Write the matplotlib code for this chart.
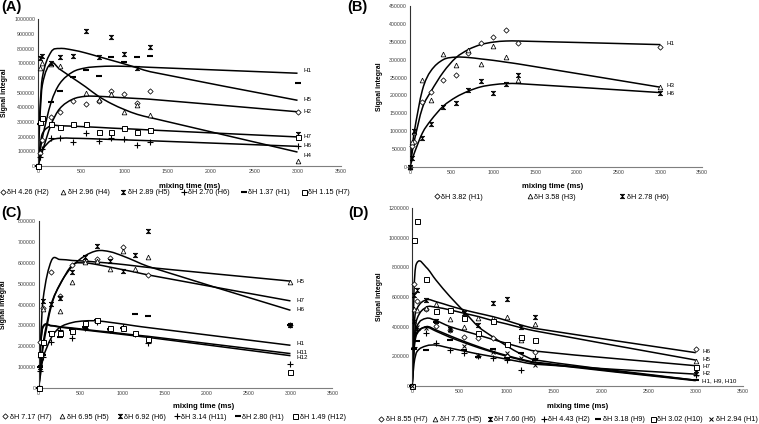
import numpy as np
import matplotlib
matplotlib.use("Agg")
import matplotlib.pyplot as plt
from matplotlib.path import Path
from matplotlib.patches import PathPatch
from matplotlib import ticker

plt.rcParams['font.family'] = ['Liberation Sans Narrow', 'Liberation Sans', 'DejaVu Sans']

nan = np.nan

# mixing times (ms)
times = [0, 20, 50, 150, 250, 400, 550, 700, 850, 1000, 1150, 1300, 3000]

# ---- panel A ----
a_legend = ["δH 4.26 (H2)", "δH 2.96 (H4)", "δH 2.89 (H5)", "δH 2.70 (H6)", "δH 1.37 (H1)", "δH 1.15 (H7)"]
a_h2 = [0, 90e3, 180e3, 332e3, 370e3, 443e3, 425e3, 443e3, 511e3, 493e3, 427e3, 511e3, 370e3]
a_h4 = [0, 670e3, 700e3, 698e3, 682e3, nan, 495e3, 447e3, 489e3, 366e3, 415e3, 348e3, 34e3]
a_h5 = [0, 734e3, 752e3, 700e3, 745e3, 752e3, 916e3, 745e3, 877e3, 766e3, 666e3, 807e3, 221e3]
a_h6 = [0, 60e3, 120e3, 189e3, 189e3, 164e3, 227e3, 173e3, 193e3, 184e3, 143e3, 164e3, 135e3]
a_h1 = [0, 290e3, 330e3, 439e3, 511e3, 609e3, 655e3, 616e3, 741e3, 707e3, 739e3, 750e3, 564e3]
a_h7 = [0, 298e3, 325e3, 284e3, 264e3, 284e3, 284e3, 234e3, 234e3, 261e3, 234e3, 243e3, 199e3]
a_h2_fit = [0, 40e3, 100e3, 280e3, 390e3, 455e3, 475e3, 475e3, 470e3, 465e3, 460e3, 455e3, 370e3]
a_h4_fit = [0, 300e3, 550e3, 700e3, 660e3, 600e3, 540e3, 475e3, 425e3, 385e3, 352e3, 330e3, 96e3]
a_h5_fit = [0, 350e3, 600e3, 775e3, 800e3, 790e3, 770e3, 745e3, 720e3, 695e3, 668e3, 642e3, 448e3]
a_h6_fit = [0, 50e3, 110e3, 175e3, 190e3, 190e3, 188e3, 185e3, 182e3, 179e3, 176e3, 173e3, 135e3]
a_h1_fit = [0, 80e3, 190e3, 430e3, 560e3, 640e3, 668e3, 677e3, 680e3, 679e3, 676e3, 672e3, 632e3]
a_h7_fit = [0, 120e3, 220e3, 275e3, 275e3, 272e3, 268e3, 264e3, 259e3, 255e3, 251e3, 246e3, 199e3]

# ---- panel B ----
b_legend = ["δH 3.82 (H1)", "δH 3.58 (H3)", "δH 2.78 (H6)"]
b_h1 = [0, 58e3, 70e3, 183e3, 211e3, 244e3, 256e3, 318e3, 346e3, 362e3, 382e3, 346e3, 335e3]
b_h3 = [0, 70e3, 98e3, 244e3, 186e3, 317e3, 286e3, 328e3, 289e3, 338e3, 307e3, 244e3, 223e3]
b_h6 = [0, 25e3, 100e3, 81e3, 121e3, 168e3, 180e3, 216e3, 239e3, 208e3, 233e3, 256e3, 207e3]
b_h1_fit = [0, 30e3, 70e3, 165e3, 210e3, 265e3, 305e3, 328e3, 342e3, 349e3, 352e3, 352e3, 342e3]
b_h3_fit = [0, 40e3, 95e3, 215e3, 268e3, 300e3, 307e3, 306e3, 302e3, 298e3, 293e3, 288e3, 223e3]
b_h6_fit = [0, 15e3, 37e3, 95e3, 130e3, 170e3, 195e3, 212e3, 224e3, 230e3, 233e3, 233e3, 208e3]

# ---- panel C ----
c_legend = ["δH 7.17 (H7)", "δH 6.95 (H5)", "δH 6.92 (H6)", "δH 3.14 (H11)", "δH 2.80 (H1)", "δH 1.49 (H12)"]
c_h7 = [0, 222e3, 382e3, 556e3, 440e3, 589e3, 614e3, 617e3, 622e3, 675e3, nan, 543e3, 300e3]
c_h5 = [0, 160e3, 377e3, nan, 368e3, 510e3, 606e3, 609e3, 573e3, 656e3, 571e3, 631e3, 510e3]
c_h6 = [0, 100e3, 418e3, 402e3, 430e3, 559e3, 629e3, 680e3, 608e3, 563e3, 637e3, 755e3, 300e3]
c_h11 = [0, 80e3, 150e3, 219e3, 280e3, 241e3, 290e3, 319e3, 277e3, 294e3, 257e3, 214e3, 116e3]
c_h1 = [0, 100e3, 160e3, 270e3, 247e3, 280e3, 295e3, 325e3, 285e3, 290e3, 355e3, 347e3, 300e3]
c_h12 = [0, 164e3, 222e3, 264e3, 264e3, 274e3, 310e3, 327e3, 289e3, 290e3, 264e3, 234e3, 78e3]
c_h7_fit = [0, 90e3, 210e3, 402e3, 493e3, 590e3, 600e3, 592e3, 580e3, 568e3, 556e3, 543e3, 418e3]
c_h5_fit = [0, 200e3, 420e3, 610e3, 617e3, 612e3, 609e3, 604e3, 599e3, 593e3, 586e3, 579e3, 513e3]
c_h6_fit = [0, 80e3, 190e3, 393e3, 496e3, 584e3, 634e3, 659e3, 654e3, 634e3, 609e3, 584e3, 373e3]
c_h11_fit = [0, 200e3, 295e3, 300e3, 294e3, 288e3, 281e3, 274e3, 268e3, 261e3, 254e3, 248e3, 165e3]
c_h1_fit = [0, 60e3, 140e3, 241e3, 290e3, 314e3, 322e3, 322e3, 315e3, 307e3, 298e3, 290e3, 205e3]
c_h12_fit = [0, 190e3, 290e3, 298e3, 292e3, 285e3, 278e3, 271e3, 264e3, 257e3, 250e3, 243e3, 155e3]

# ---- panel D ----
d_legend = ["δH 8.55 (H7)", "δH 7.75 (H5)", "δH 7.60 (H6)", "δH 4.43 (H2)", "δH 3.18 (H9)", "δH 3.02 (H10)", "δH 2.94 (H1)"]
d_h7 = [0, 690e3, 570e3, 520e3, 405e3, 380e3, 330e3, 320e3, 320e3, 200e3, 325e3, 230e3, 250e3]
d_h5 = [0, 520e3, 510e3, 525e3, 550e3, 450e3, 395e3, 455e3, 460e3, 465e3, 310e3, 415e3, 170e3]
d_h6 = [0, 615e3, 645e3, 580e3, 440e3, 385e3, 490e3, 410e3, 560e3, 585e3, 400e3, 465e3, 105e3]
d_h2 = [0, 260e3, 380e3, 355e3, 290e3, 240e3, 220e3, 200e3, 190e3, 175e3, 105e3, 190e3, 70e3]
d_h9 = [0, 250e3, 300e3, 245e3, 430e3, 310e3, 245e3, 195e3, 250e3, 190e3, 225e3, 175e3, 40e3]
d_h10 = [0, 985e3, 1115e3, 720e3, 505e3, 515e3, 460e3, 360e3, 440e3, 285e3, 330e3, 310e3, 130e3]
d_h1 = [0, 440e3, 400e3, 390e3, 435e3, 375e3, 270e3, 200e3, 230e3, 220e3, 185e3, 140e3, 80e3]
d_h7_fit = [0, 250e3, 400e3, 456e3, 441e3, 400e3, 371e3, 343e3, 314e3, 287e3, 260e3, 235e3, 136e3]
d_h5_fit = [0, 300e3, 450e3, 531e3, 531e3, 513e3, 490e3, 468e3, 441e3, 418e3, 393e3, 371e3, 174e3]
d_h6_fit = [0, 400e3, 520e3, 581e3, 569e3, 540e3, 513e3, 490e3, 468e3, 441e3, 411e3, 388e3, 224e3]
d_h2_fit = [0, 150e3, 230e3, 270e3, 275e3, 255e3, 235e3, 215e3, 198e3, 180e3, 162e3, 146e3, 79e3]
d_h9_fit = [0, 250e3, 350e3, 400e3, 378e3, 338e3, 300e3, 265e3, 233e3, 205e3, 180e3, 160e3, 38e3]
d_h10_fit = [0, 650e3, 830e3, 800e3, 716e3, 603e3, 502e3, 400e3, 332e3, 270e3, 215e3, 175e3, 38e3]
d_h1_fit = [0, 270e3, 360e3, 395e3, 370e3, 328e3, 292e3, 258e3, 228e3, 200e3, 176e3, 155e3, 35e3]

# hourglass marker (Excel style)
HOURGLASS = [(-1, 1), (1, 1), (-1, -1), (1, -1), (-1, 1)]

MK = {
    'diamond': dict(marker='D', ms=2.7, mfc='white', mec='black', mew=0.55),
    'tri': dict(marker='^', ms=3.4, mfc='white', mec='black', mew=0.55),
    'hour': dict(marker=HOURGLASS, ms=3.2, mfc='black', mec='black', mew=0.5),
    'plus': dict(marker='+', ms=3.8, mec='black', mew=0.8),
    'dash': dict(marker='_', ms=4.2, mec='black', mew=1.5),
    'square': dict(marker='s', ms=3.6, mfc='white', mec='black', mew=0.7),
    'x': dict(marker='x', ms=3.0, mec='black', mew=0.7),
}


def smooth_line(ax, x, y, lw=1.1):
    # smoothed line like Excel's "smooth line" scatter
    x = np.asarray(x, float)
    y = np.asarray(y, float)
    n = len(x)
    m = np.zeros(n)
    m[0] = (y[1] - y[0]) / (x[1] - x[0])
    m[-1] = (y[-1] - y[-2]) / (x[-1] - x[-2])
    for i in range(1, n - 1):
        m[i] = (y[i + 1] - y[i - 1]) / (x[i + 1] - x[i - 1])
    verts = [(x[0], y[0])]
    codes = [Path.MOVETO]
    for i in range(n - 1):
        h = x[i + 1] - x[i]
        verts += [(x[i] + h / 3, y[i] + m[i] * h / 3),
                  (x[i + 1] - h / 3, y[i + 1] - m[i + 1] * h / 3),
                  (x[i + 1], y[i + 1])]
        codes += [Path.CURVE4] * 3
    ax.add_patch(PathPatch(Path(verts, codes), fill=False, ec='black', lw=lw, zorder=2))


def style_axes(ax, ymax, ystep):
    ax.set_xlim(0, 3500)
    ax.set_ylim(0, ymax)
    ax.set_xticks(range(0, 3501, 500))
    ax.set_yticks(np.arange(0, ymax + 1, ystep))
    ax.yaxis.set_major_formatter(ticker.FuncFormatter(lambda v, p: "%d" % v))
    ax.tick_params(length=0, labelsize=3.8, pad=2, colors='#404040')
    for s in ['top', 'right']:
        ax.spines[s].set_visible(False)
    ax.spines['left'].set_color('#303030')
    ax.spines['left'].set_linewidth(0.8)
    ax.spines['bottom'].set_color('#7f7f7f')
    ax.spines['bottom'].set_linewidth(0.8)
    ax.set_xlabel("mixing time (ms)", fontsize=5.5, fontweight='bold')
    ax.set_ylabel("Signal integral", fontsize=5, fontweight='bold')


def draw_panel(ax, series, fits, styles, legend, ends, leg_pos, ncol, colsp):
    handles = []
    for vals, st, lab in zip(series, styles, legend):
        h, = ax.plot(times, vals, ls='none', clip_on=False, zorder=3, label=lab, **MK[st])
        handles.append(h)
    for f in fits:
        smooth_line(ax, times, f)
    for txt, yv in ends:
        ax.text(3070, yv, txt, fontsize=4.5, va='center', ha='left')
    ax.legend(handles=handles, loc='center', bbox_to_anchor=leg_pos, ncol=ncol,
              frameon=False, fontsize=5.2, handletextpad=0.15, columnspacing=colsp,
              handlelength=0.9, borderaxespad=0, borderpad=0)


fig = plt.figure(figsize=(7.59, 4.24), dpi=100)

# panel A
axA = fig.add_axes([0.050, 0.608, 0.399, 0.347])
style_axes(axA, 1000000, 100000)
draw_panel(axA, [a_h2, a_h4, a_h5, a_h6, a_h1, a_h7],
           [a_h2_fit, a_h4_fit, a_h5_fit, a_h6_fit, a_h1_fit, a_h7_fit],
           ['diamond', 'tri', 'hour', 'plus', 'dash', 'square'], a_legend,
           [("H1", 650e3), ("H5", 455e3), ("H2", 372e3), ("H7", 200e3), ("H6", 140e3), ("H4", 75e3)],
           (0.452, -0.18), 6, 1.5)
axA.xaxis.set_label_coords(0.5, -0.115)
axA.yaxis.set_label_coords(-0.099, 0.5)

# panel B
axB = fig.add_axes([0.540, 0.606, 0.385, 0.380])
style_axes(axB, 450000, 50000)
draw_panel(axB, [b_h1, b_h3, b_h6], [b_h1_fit, b_h3_fit, b_h6_fit],
           ['diamond', 'tri', 'hour'], b_legend,
           [("H1", 345e3), ("H3", 228e3), ("H6", 205e3)],
           (0.483, -0.186), 3, 6.0)
axB.xaxis.set_label_coords(0.49, -0.10)
axB.yaxis.set_label_coords(-0.092, 0.5)

# panel C
axC = fig.add_axes([0.051, 0.085, 0.387, 0.393])
style_axes(axC, 800000, 100000)
draw_panel(axC, [c_h7, c_h5, c_h6, c_h11, c_h1, c_h12],
           [c_h7_fit, c_h5_fit, c_h6_fit, c_h11_fit, c_h1_fit, c_h12_fit],
           ['diamond', 'tri', 'hour', 'plus', 'dash', 'square'], c_legend,
           [("H5", 513e3), ("H7", 420e3), ("H6", 378e3), ("H1", 212e3), ("H11", 168e3), ("H12", 145e3)],
           (0.46, -0.175), 6, 1.1)
axC.xaxis.set_label_coords(0.56, -0.09)
axC.yaxis.set_label_coords(-0.109, 0.5)

# panel D
axD = fig.add_axes([0.543, 0.090, 0.436, 0.419])
style_axes(axD, 1200000, 200000)
draw_panel(axD, [d_h7, d_h5, d_h6, d_h2, d_h9, d_h10, d_h1],
           [d_h7_fit, d_h5_fit, d_h6_fit, d_h2_fit, d_h9_fit, d_h10_fit, d_h1_fit],
           ['diamond', 'tri', 'hour', 'plus', 'dash', 'square', 'x'], d_legend,
           [("H6", 235e3), ("H5", 180e3), ("H7", 133e3), ("H2", 81e3), ("H1, H9, H10", 34e3)],
           (0.47, -0.19), 7, 0.7)
axD.xaxis.set_label_coords(0.5, -0.096)
axD.yaxis.set_label_coords(-0.088, 0.5)

for txt, x, y in [("(A)", 0.001, 0.999), ("(B)", 0.458, 0.999), ("(C)", 0.001, 0.515), ("(D)", 0.459, 0.515)]:
    fig.text(x, y, txt, fontsize=10.5, fontweight='bold', va='top', ha='left', family='Liberation Sans')

fig.savefig("out.png", dpi=100)
